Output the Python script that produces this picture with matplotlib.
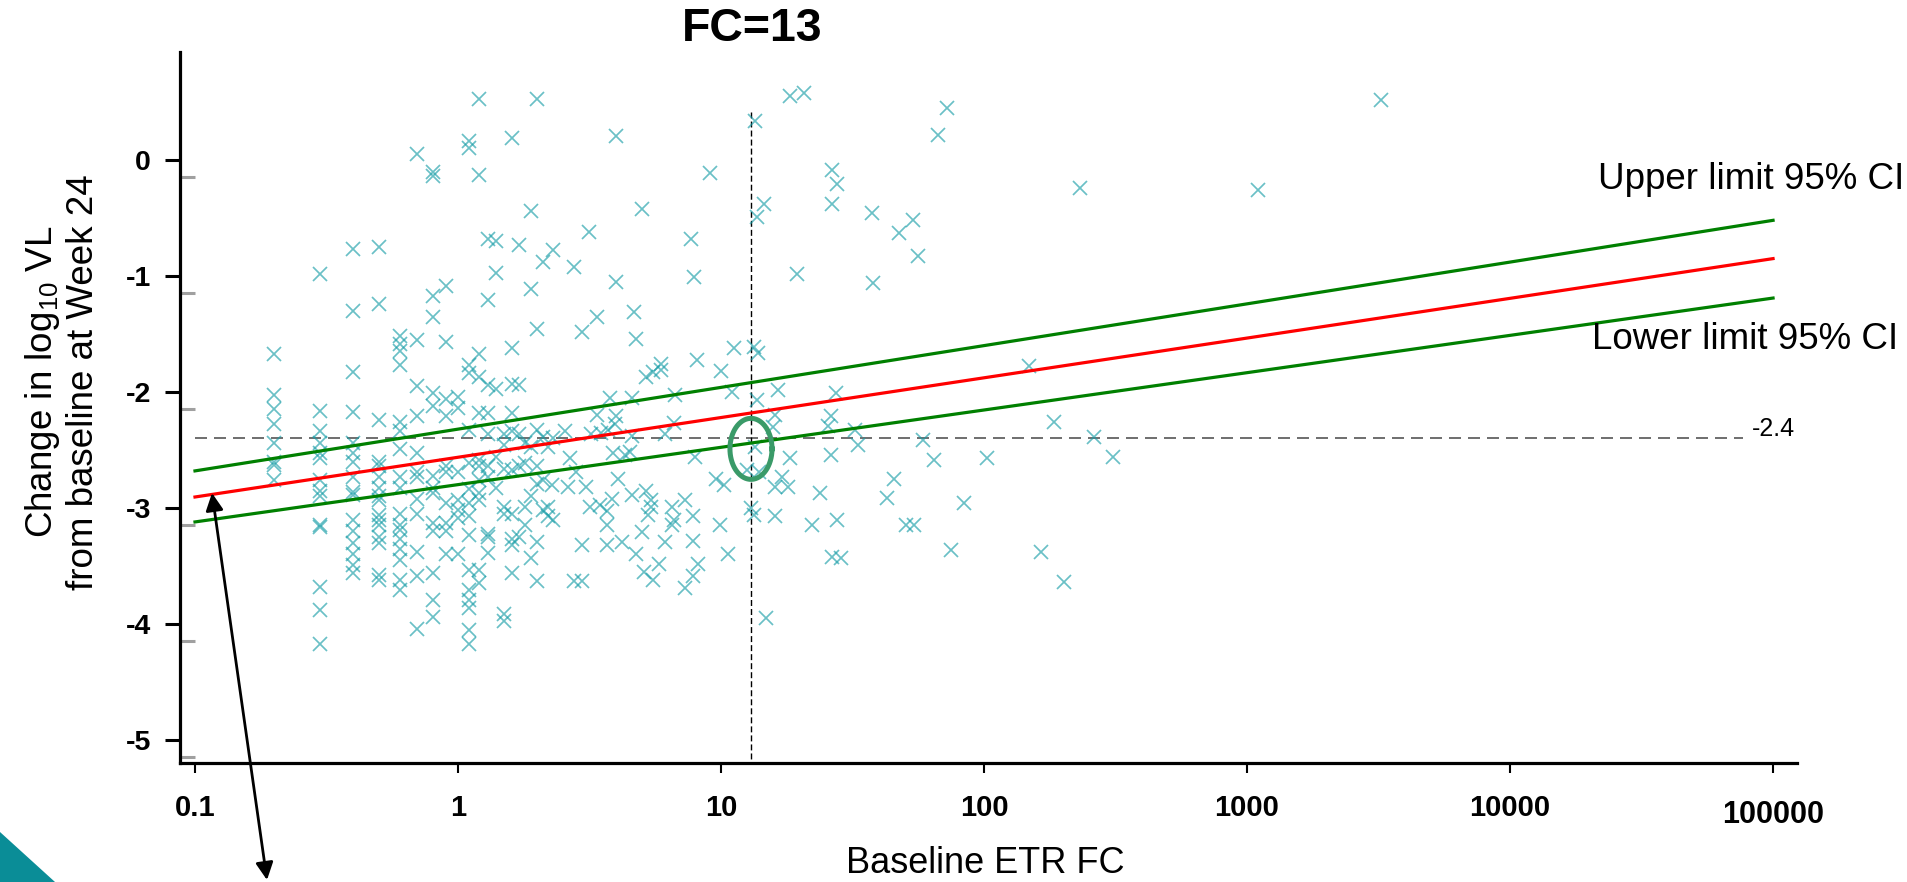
import matplotlib
matplotlib.use('Agg')
import matplotlib.pyplot as plt
import numpy as np
from matplotlib import transforms
from matplotlib.patches import FancyArrowPatch, Polygon
from matplotlib.ticker import FixedLocator, NullLocator

plt.rcParams['font.family'] = ['Liberation Sans', 'DejaVu Sans']
plt.rcParams['mathtext.fontset'] = 'custom'
plt.rcParams['mathtext.rm'] = 'Liberation Sans'
plt.rcParams['mathtext.it'] = 'Liberation Sans:italic'
plt.rcParams['mathtext.bf'] = 'Liberation Sans:bold'

# baseline FC below ~2.5 is reported with one decimal, so those points stack in columns
column_fc = [0.2, 0.3, 0.4, 0.5, 0.6, 0.7, 0.8, 0.9, 1.0, 1.1, 1.2,
             1.3, 1.4, 1.5, 1.6, 1.7, 1.8, 1.9, 2.0, 2.1, 2.2, 2.3]
column_change = [
    [-1.67, -2.03, -2.15, -2.28, -2.44, -2.60, -2.63, -2.76],
    [-0.98, -2.16, -2.34, -2.44, -2.53, -2.57, -2.76, -2.85, -2.90, -3.15, -3.16, -3.68, -3.88, -4.17],
    [-0.77, -1.30, -1.83, -2.17, -2.44, -2.53, -2.60, -2.73, -2.86, -2.89, -3.10, -3.20, -3.30, -3.40, -3.49, -3.56],
    [-0.75, -1.24, -2.24, -2.60, -2.64, -2.73, -2.83, -2.90, -2.93, -3.06, -3.10, -3.15, -3.25, -3.30, -3.58, -3.62],
    [-1.52, -1.59, -1.65, -1.77, -2.26, -2.34, -2.49, -2.73, -2.83, -3.05, -3.15, -3.19, -3.27, -3.35, -3.45, -3.62, -3.71],
    [0.05, -1.55, -1.95, -2.21, -2.53, -2.69, -2.73, -2.92, -3.05, -3.38, -3.59, -4.04],
    [-0.10, -0.14, -1.17, -1.35, -2.01, -2.12, -2.72, -2.83, -2.87, -3.13, -3.20, -3.56, -3.79, -3.94],
    [-1.09, -1.57, -2.06, -2.21, -2.64, -2.69, -2.96, -3.13, -3.20, -3.40],
    [-2.04, -2.14, -2.69, -2.93, -3.02, -3.09, -3.40],
    [0.16, 0.10, -1.77, -1.84, -2.33, -2.61, -2.84, -2.96, -3.07, -3.23, -3.53, -3.71, -3.79, -3.86, -4.05, -4.17],
    [0.53, -0.13, -1.67, -1.87, -2.18, -2.59, -2.64, -2.76, -2.87, -2.93, -3.53, -3.65],
    [-0.68, -1.21, -1.94, -2.18, -2.36, -2.64, -2.73, -3.22, -3.25, -3.39],
    [-0.70, -0.97, -1.97, -2.56, -2.83],
    [-2.36, -2.46, -2.66, -2.99, -3.05, -3.91, -3.97],
    [0.19, -1.62, -1.93, -2.18, -2.34, -2.67, -3.05, -3.27, -3.32, -3.56],
    [-0.73, -1.94, -2.36, -2.64, -3.25],
    [-2.44, -2.61, -2.99, -3.15],
    [-0.44, -1.11, -2.47, -2.90, -3.43],
    [0.53, -1.46, -2.33, -2.64, -2.79, -3.29, -3.63],
    [-0.88, -2.39, -2.76, -3.02],
    [-2.47, -2.99, -3.07],
    [-0.78, -2.40, -3.10],
]

# remaining patients (higher baseline FC)
other_fc = [4.0, 13.5, 18.3, 20.6, 9.1, 26.5, 27.5, 26.5, 5.0, 14.6, 13.7, 37.4, 53.6, 47.7, 56,
            3.16, 7.7, 2.75, 3.98, 7.9, 19.4, 37.8, 3.37, 4.68, 2.95, 4.77, 11.2, 13.3, 13.8,
            8.07, 10.0, 5.9, 5.5, 5.2, 5.9, 11.0, 16.4, 27.3, 13.7, 3.78, 4.57, 6.7, 3.37, 4.0,
            16.0, 26.3,
            3.95, 3.72, 2.55, 3.2, 3.5, 4.57, 6.1, 6.6, 15.7, 25.6, 32.4, 33.3, 13.5, 2.67, 3.9,
            4.5, 4.3, 7.96, 18.3, 26.3, 2.82, 2.27, 4.07, 9.6, 10.3, 12.6, 14.0, 17.0, 16.0, 18.0,
            23.7, 45.3, 42.9, 2.62, 3.08, 4.57, 5.2, 5.4, 7.3, 3.18, 3.47, 3.68, 3.84, 6.5, 6.6,
            6.5, 5.3, 5.4, 7.8, 3.68, 9.9, 13.0, 13.3, 16.0, 22.1, 27.7, 50.5, 54.4, 2.97, 3.68,
            4.2, 5.0, 6.1, 7.8, 4.77, 5.8, 8.2, 10.6, 5.1, 5.5, 2.75, 2.97, 7.3, 7.8, 26.5, 28.5,
            14.8,
            72.3, 67.1, 3230, 231, 1096, 148, 184, 58.6, 262, 64.7, 102.6, 310, 84, 74.6, 164, 202]
other_change = [0.21, 0.34, 0.55, 0.575, -0.11, -0.09, -0.21, -0.38, -0.42, -0.38, -0.49, -0.46, -0.52, -0.63, -0.83,
                -0.62, -0.68, -0.92, -1.05, -1.01, -0.985, -1.06, -1.35, -1.31, -1.48, -1.54, -1.62, -1.61, -1.66,
                -1.72, -1.82, -1.76, -1.83, -1.87, -1.81, -2.0, -1.98, -2.01, -2.07, -2.05, -2.05, -2.03, -2.20, -2.21,
                -2.20, -2.21,
                -2.28, -2.33, -2.34, -2.36, -2.35, -2.38, -2.36, -2.27, -2.30, -2.29, -2.33, -2.46, -2.47, -2.57, -2.53,
                -2.52, -2.54, -2.56, -2.57, -2.54, -2.69, -2.80, -2.75, -2.75, -2.80, -2.67, -2.69, -2.73, -2.82, -2.82,
                -2.87, -2.75, -2.91, -2.82, -2.82, -2.89, -2.85, -2.93, -2.93, -2.99, -2.97, -3.03, -2.92, -2.99, -3.10,
                -3.15, -3.06, -2.99, -3.07, -3.15, -3.15, -3.00, -3.06, -3.07, -3.15, -3.10, -3.15, -3.15, -3.32, -3.32,
                -3.29, -3.21, -3.29, -3.28, -3.40, -3.48, -3.48, -3.40, -3.55, -3.62, -3.63, -3.63, -3.69, -3.59, -3.42, -3.43,
                -3.95,
                0.45, 0.215, 0.52, -0.24, -0.26, -1.78, -2.26, -2.41, -2.39, -2.59, -2.57, -2.56, -2.96, -3.36, -3.38, -3.64]

# regression line and 95% CI (straight in log FC)
fit_fc = [0.1, 100000]
fit_mid = [-2.905, -0.85]
fit_upper = [-2.68, -0.52]
fit_lower = [-3.12, -1.19]

cutoff_fc = 13
cutoff_change = -2.4

ytick_values = [0, -1, -2, -3, -4, -5]
ytick_labels = ['0', '-1', '-2', '-3', '-4', '-5']
xtick_values = [0.1, 1, 10, 100, 1000, 10000, 100000]
xtick_labels = ['0.1', '1', '10', '100', '1000', '10000', '']

W, H = 1907, 882
fig = plt.figure(figsize=(W / 100, H / 100), dpi=100)
ax = fig.add_axes([180 / W, 1 - 763 / H, (1797 - 180) / W, (763 - 52) / H])

all_fc = np.concatenate([np.full(len(c), f) for f, c in zip(column_fc, column_change)] + [other_fc])
all_change = np.concatenate([np.array(c) for c in column_change] + [other_change])

ax.plot(all_fc, all_change, linestyle='none', marker='x', markersize=9.4,
        markeredgewidth=1.25, color='#1a9ea8', alpha=0.65, zorder=2)

ax.plot(fit_fc, fit_upper, color='#008000', lw=2.3, zorder=3)
ax.plot(fit_fc, fit_lower, color='#008000', lw=2.3, zorder=3)
ax.plot(fit_fc, fit_mid, color='#ff0000', lw=2.3, zorder=3)

# reference lines
ax.plot([0.1, 7.7e4], [cutoff_change, cutoff_change], color='#555555', lw=1.2,
        dashes=(7.2, 4.2), zorder=1)
ax.plot([cutoff_fc, cutoff_fc], [0.41, -5.3], color='black', lw=1.0,
        dashes=(4.3, 2.2), zorder=1)

# green ring round the crossing point
t = np.linspace(0, 2 * np.pi, 200)
ax.plot(cutoff_fc * 10 ** (0.08 * np.cos(t)), -2.49 + 0.263 * np.sin(t),
        color='#3a9a68', lw=3.6, zorder=4)

ax.set_xscale('log')
ax.set_xlim(10 ** -1.057, 10 ** 5.091)
ax.set_ylim(-5.198, 0.931)

for s in ['top', 'right']:
    ax.spines[s].set_visible(False)
for s in ['left', 'bottom']:
    ax.spines[s].set_linewidth(2.3)

ax.set_yticks(ytick_values)
ax.set_yticklabels(ytick_labels, fontweight='bold')
ax.yaxis.set_minor_locator(FixedLocator([v - 0.145 for v in ytick_values]))
ax.tick_params(axis='y', which='major', direction='out', length=11, width=2.2,
               pad=10, labelsize=20.5)
ax.tick_params(axis='y', which='minor', direction='in', length=11, width=2.2,
               color='#a0a0a0')

ax.set_xticks(xtick_values)
ax.set_xticklabels(xtick_labels, fontweight='bold')
ax.xaxis.set_minor_locator(NullLocator())
ax.tick_params(axis='x', which='major', direction='out', length=7, width=1.5,
               pad=15, labelsize=21)
trans = transforms.blended_transform_factory(ax.transData, ax.transAxes)
ax.text(100000, -0.073, '100000', transform=trans, ha='center', va='center',
        fontsize=22, fontweight='bold')

ax.text(8.3e4, cutoff_change + 0.02, '-2.4', fontsize=18, ha='left', va='baseline')

fig.text(752 / W, 1 - 29 / H, 'FC=13', ha='center', va='center', fontsize=33.5,
         fontweight='bold')
fig.text(62 / W, 1 - 382 / H, 'Change in log$_{10}$ VL\nfrom baseline at Week 24',
         rotation=90, ha='center', va='center', fontsize=26.5,
         multialignment='center', linespacing=1.15)
fig.text(985 / W, 1 - 873 / H, 'Baseline ETR FC', ha='center', va='baseline', fontsize=26)
fig.text(1904 / W, 1 - 189 / H, 'Upper limit 95% CI', ha='right', va='baseline', fontsize=26.5)
fig.text(1898 / W, 1 - 349 / H, 'Lower limit 95% CI', ha='right', va='baseline', fontsize=26.5)

# double arrow pointing at the start of the fitted line
arrow = FancyArrowPatch((212 / W, 1 - 493 / H), (267 / W, 1 - 880 / H),
                        transform=fig.transFigure,
                        arrowstyle='<|-|>,head_length=0.7,head_width=0.35',
                        mutation_scale=15, lw=2.0, color='black',
                        shrinkA=0, shrinkB=0)
fig.add_artist(arrow)

# teal slide corner
fig.add_artist(Polygon([(0, 0), (55 / W, 0), (0, 50 / H)], closed=True,
                       transform=fig.transFigure, color='#0a8d97', lw=0))

fig.savefig('out.png', dpi=100)
